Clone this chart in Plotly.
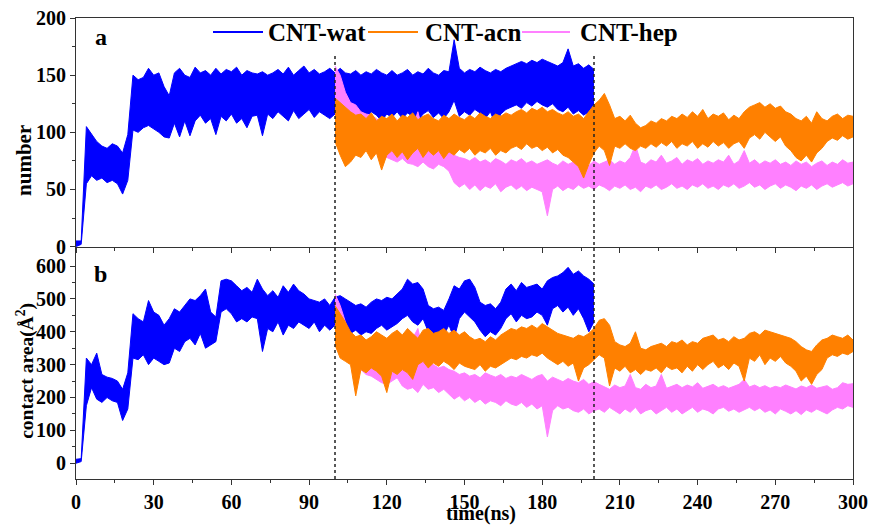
import plotly.graph_objects as go

# ---------------- data ----------------
series_names = ["CNT-wat", "CNT-acn", "CNT-hep"]
series_colors = ["#0000FF", "#FF8000", "#FF80FF"]
phase_times = [100, 200]

t_wat = list(range(0, 201, 2))      # ns
t_solv = list(range(100, 301, 2))   # ns

# panel a: number of contacts (upper / lower envelope of the noisy trace)
wat_num_hi = [5, 5, 105, 98, 92, 88, 86, 90, 88, 82, 98, 150, 146, 148, 156, 150, 152, 140, 132, 152,
              156, 150, 148, 157, 152, 154, 150, 156, 151, 155, 153, 157, 150, 154, 152, 151, 153, 150, 152, 155,
              151, 157, 150, 154, 158, 152, 155, 151, 153, 156, 152,
              156, 152, 151, 154, 150, 153, 151, 155, 152, 150, 154, 150, 152, 155, 150, 153, 151, 156, 152, 150,
              154, 153, 181, 156, 152, 155, 153, 157, 154, 152, 155, 153, 156, 158, 160, 162, 160, 163, 161, 164,
              162, 160, 158, 161, 173, 158, 160, 156, 159, 155]
wat_num_lo = [0, 2, 55, 62, 58, 60, 56, 58, 55, 46, 58, 102, 100, 104, 106, 103, 100, 96, 95, 108,
              96, 110, 97, 110, 115, 108, 112, 98, 114, 110, 116, 108, 112, 104, 114, 115, 97, 116, 112, 118,
              114, 110, 119, 112, 116, 120, 113, 118, 115, 112, 116,
              118, 116, 120, 114, 117, 112, 118, 115, 110, 116, 113, 118, 112, 117, 114, 110, 116, 119, 113, 117,
              112, 118, 128, 114, 118, 115, 120, 117, 112, 118, 106, 116, 120, 122, 124, 121, 126, 123, 127, 124,
              122, 125, 120, 118, 122, 116, 119, 115, 118, 114]
acn_num_hi = [130, 126, 122, 118, 115, 116, 112, 117, 110, 114, 112, 116, 110, 115, 113, 117, 111, 114, 116, 112,
              110, 115, 112, 116, 113, 111, 115, 112, 117, 114, 112, 116, 114, 117, 115, 118, 120, 117, 121, 119,
              122, 118, 120, 117, 115, 118, 114, 116, 112, 118, 124,
              128, 134, 124, 112, 114, 110, 115, 108, 104, 106, 110, 108, 112, 110, 114, 112, 116, 113, 118, 114,
              120, 112, 116, 114, 117, 111, 115, 112, 118, 122, 124, 126, 122, 125, 121, 123, 118, 116, 112, 110,
              114, 108, 118, 112, 110, 114, 116, 112, 115, 114]
acn_num_lo = [92, 80, 70, 74, 80, 78, 84, 76, 82, 67, 80, 84, 78, 83, 76, 82, 86, 78, 84, 80,
              84, 77, 83, 80, 85, 82, 86, 80, 84, 82, 86, 80, 84, 82, 86, 88, 85, 90, 86, 88,
              84, 87, 82, 85, 80, 78, 74, 70, 60, 72, 82,
              88, 84, 71, 88, 86, 90, 86, 84, 88, 86, 90, 87, 91, 88, 92, 86, 90, 88, 92, 86,
              90, 87, 92, 88, 91, 86, 90, 92, 86, 95, 98, 94, 100, 96, 92, 96, 88, 84, 78, 75,
              80, 74, 82, 86, 92, 95, 93, 97, 94, 96]
hep_num_hi = [158, 150, 135, 126, 124, 118, 116, 115, 112, 108, 106, 104, 103, 105, 102, 104, 118, 100, 98, 100,
              97, 96, 94, 80, 78, 77, 75, 78, 74, 76, 73, 77, 75, 72, 76, 74, 77, 73, 75, 72,
              74, 76, 73, 71, 75, 72, 74, 70, 73, 71, 75,
              72, 74, 76, 72, 75, 73, 78, 89, 74, 72, 76, 74, 80, 73, 75, 78, 72, 76, 74, 77,
              72, 75, 73, 76, 74, 80, 72, 75, 84, 73, 76, 72, 75, 73, 76, 72, 74, 71, 75, 72,
              74, 70, 73, 75, 71, 74, 72, 76, 73, 74]
hep_num_lo = [120, 116, 106, 102, 98, 94, 90, 86, 82, 80, 78, 76, 74, 77, 73, 72, 70, 74, 70, 68,
              72, 70, 66, 56, 52, 55, 50, 54, 49, 53, 51, 55, 48, 52, 54, 50, 53, 49, 52, 50,
              48, 27, 50, 53, 49, 52, 50, 54, 51, 53, 50,
              54, 52, 49, 53, 51, 54, 50, 52, 48, 53, 51, 54, 50, 52, 55, 51, 53, 50, 54, 52,
              55, 51, 53, 50, 54, 52, 55, 51, 53, 56, 52, 54, 50, 53, 55, 51, 54, 52, 49, 53,
              51, 54, 50, 53, 55, 52, 54, 56, 53, 55]

# panel b: contact area (Å^2)
wat_area_hi = [12, 14, 320, 300, 335, 270, 262, 258, 250, 225, 275, 455, 440, 430, 495, 460, 450, 420, 440, 470,
               460, 480, 500, 495, 510, 530, 460, 445, 555, 560, 555, 540, 525, 535, 520, 560, 530, 510, 525, 505,
               540, 520, 545, 525, 515, 500, 495, 490, 500, 480, 505,
               510, 500, 490, 480, 485, 475, 490, 500, 495, 505, 500, 515, 530, 560, 545, 550, 530, 480, 470, 475,
               465, 500, 540, 530, 555, 560, 535, 490, 480, 485, 470, 490, 530, 545, 525, 550, 535, 540, 545, 530,
               555, 565, 570, 580, 596, 575, 585, 570, 560, 545]
wat_area_lo = [0, 5, 175, 230, 195, 185, 200, 190, 185, 130, 165, 320, 315, 330, 300, 320, 310, 300, 305, 350,
               340, 370, 380, 360, 395, 350, 360, 370, 460, 470, 455, 430, 440, 430, 445, 440, 340, 410, 400, 430,
               390, 420, 410, 430, 420, 410, 430, 400, 420, 405, 420,
               415, 400, 395, 405, 390, 400, 395, 410, 420, 405, 415, 425, 440, 450, 430, 420, 440, 400, 385, 395,
               390, 420, 380, 440, 460, 445, 430, 405, 385, 400, 390, 410, 440, 455, 430, 450, 440, 445, 460, 450,
               420, 470, 480, 460, 475, 450, 470, 440, 400, 430]
acn_area_hi = [480, 455, 430, 400, 385, 390, 375, 385, 400, 390, 380, 395, 405, 390, 410, 395, 380, 405, 410, 395,
               400, 410, 395, 405, 390, 400, 385, 375, 380, 370, 385, 375, 390, 400, 410, 405, 415, 410, 420, 410,
               425, 415, 405, 395, 390, 385, 380, 390, 385, 395, 410,
               435, 440, 420, 370, 360, 355, 365, 400, 350, 345, 355, 360, 365, 355, 370, 365, 375, 360, 370, 365,
               380, 385, 390, 375, 380, 370, 385, 375, 380, 395, 400, 390, 405, 400, 395, 390, 385, 380, 370, 355,
               345, 340, 360, 375, 380, 390, 385, 380, 390, 375]
acn_area_lo = [360, 320, 310, 300, 205, 285, 275, 290, 280, 265, 215, 280, 270, 285, 275, 255, 300, 310, 290, 305,
               295, 310, 300, 285, 305, 295, 290, 285, 300, 280, 295, 290, 300, 310, 320, 315, 325, 320, 330, 325,
               335, 320, 310, 300, 310, 295, 305, 250, 290, 300, 315,
               330, 320, 235, 290, 280, 295, 275, 285, 270, 285, 280, 290, 275, 295, 285, 290, 275, 295, 280, 300,
               285, 300, 310, 290, 300, 285, 305, 295, 250, 320, 310, 330, 300, 320, 310, 325, 305, 295, 280, 250,
               265, 240, 270, 285, 320, 330, 325, 335, 330, 340]
hep_area_hi = [515, 480, 430, 380, 360, 345, 330, 320, 305, 300, 320, 360, 400, 380, 350, 380, 410, 340, 320, 300,
               290, 295, 285, 280, 270, 275, 265, 270, 260, 275, 268, 262, 270, 258, 265, 260, 270, 262, 255, 265,
               270, 250, 262, 255, 248, 258, 250, 245, 255, 240, 248,
               240, 232, 225, 238, 230, 235, 270, 230, 225, 240, 230, 235, 270, 228, 235, 240, 230, 238, 232, 245,
               228, 235, 240, 230, 236, 228, 234, 240, 255, 232, 238, 230, 236, 228, 234, 230, 238, 232, 226, 235,
               230, 238, 228, 232, 236, 225, 230, 245, 240, 242]
hep_area_lo = [420, 390, 350, 320, 300, 285, 270, 265, 255, 245, 240, 250, 260, 235, 225, 230, 215, 240, 225, 230,
               215, 225, 210, 195, 205, 190, 200, 185, 195, 180, 190, 185, 175, 190, 180, 175, 185, 170, 180, 165,
               175, 80, 160, 175, 165, 170, 160, 155, 165, 150, 160,
               165, 155, 170, 160, 150, 165, 155, 170, 150, 160, 165, 150, 160, 170, 155, 165, 150, 160, 170, 155,
               165, 160, 150, 165, 170, 158, 165, 155, 162, 170, 160, 168, 155, 162, 150, 165, 158, 150, 160, 148,
               162, 155, 165, 158, 150, 162, 170, 165, 175, 170]

x_ticks = [0, 30, 60, 90, 120, 150, 180, 210, 240, 270, 300]
num_ticks = [0, 50, 100, 150, 200]
area_ticks = [0, 100, 200, 300, 400, 500, 600]

# ---------------- figure ----------------
SERIF = "Liberation Serif"
AX = "#333333"
fig = go.Figure()
color_of = dict(zip(series_names, series_colors))

panel_data = {
    "a": {"CNT-wat": (t_wat, wat_num_lo, wat_num_hi),
          "CNT-hep": (t_solv, hep_num_lo, hep_num_hi),
          "CNT-acn": (t_solv, acn_num_lo, acn_num_hi)},
    "b": {"CNT-wat": (t_wat, wat_area_lo, wat_area_hi),
          "CNT-hep": (t_solv, hep_area_lo, hep_area_hi),
          "CNT-acn": (t_solv, acn_area_lo, acn_area_hi)},
}
axes_of = {"a": ("x2", "y2"), "b": ("x", "y")}

for panel, d in panel_data.items():
    xa, ya = axes_of[panel]
    for name in ["CNT-wat", "CNT-hep", "CNT-acn"]:
        t, lo, hi = d[name]
        c = color_of[name]
        fig.add_trace(go.Scatter(x=t, y=lo, mode="lines", line=dict(color=c, width=1), name=name,
                                 xaxis=xa, yaxis=ya, showlegend=False, hoverinfo="skip"))
        fig.add_trace(go.Scatter(x=t, y=hi, mode="lines", line=dict(color=c, width=1), name=name,
                                 fill="tonexty", fillcolor=c,
                                 xaxis=xa, yaxis=ya, showlegend=False, hoverinfo="skip"))

tickfont = dict(family=SERIF, size=20, color="black", weight="bold")
common_x = dict(range=[0, 300], tickvals=x_ticks, ticks="outside", ticklen=5, tickwidth=1,
                tickcolor=AX, showline=True, linecolor=AX, linewidth=1, showgrid=False, zeroline=False,
                automargin=False,
                minor=dict(tickvals=[15, 45, 75, 105, 135, 165, 195, 225, 255, 285],
                           ticks="outside", ticklen=3, tickcolor=AX))
fig.update_layout(
    width=870, height=525,
    margin=dict(l=76, r=17, t=18, b=46, autoexpand=False),
    plot_bgcolor="white", paper_bgcolor="white",
    showlegend=False,
    xaxis=dict(domain=[0, 1], anchor="y", tickfont=tickfont, **common_x),
    xaxis2=dict(domain=[0, 1], anchor="y2", matches="x", showticklabels=False, mirror=True, **common_x),
    yaxis=dict(domain=[0, 0.504], range=[-48, 659], tickvals=area_ticks, ticks="outside", ticklen=5,
               tickcolor=AX, showline=True, linecolor=AX, mirror=True, showgrid=False, zeroline=False,
               tickfont=tickfont, automargin=False,
               minor=dict(tickvals=[50, 150, 250, 350, 450, 550], ticks="outside", ticklen=3, tickcolor=AX)),
    yaxis2=dict(domain=[0.504, 1], range=[0, 200], tickvals=num_ticks, ticks="outside", ticklen=5,
                tickcolor=AX, showline=True, linecolor=AX, mirror=True, showgrid=False, zeroline=False,
                tickfont=tickfont, automargin=False,
                minor=dict(tickvals=[25, 75, 125, 175], ticks="outside", ticklen=3, tickcolor=AX)),
)

for xv in phase_times:
    fig.add_shape(type="line", xref="x", yref="paper", x0=xv, x1=xv, y0=0, y1=0.924,
                  line=dict(color="#222222", width=1.5, dash="dot"))

# legend drawn as key lines + labels across the top of panel a
PLOT_L, PLOT_W = 76, 777
key_px = [(213, 263, 266), (368, 418, 423), (522, 570, 578)]   # line start, line end, text start
leg_y = 0.9696
lab = dict(family=SERIF, color="black", weight="bold")
for name, (x0, x1, xt) in zip(series_names, key_px):
    fig.add_shape(type="line", xref="paper", yref="paper",
                  x0=(x0 - PLOT_L) / PLOT_W, x1=(x1 - PLOT_L) / PLOT_W, y0=leg_y, y1=leg_y,
                  line=dict(color=color_of[name], width=2))
    fig.add_annotation(text=name, xref="paper", yref="paper", x=(xt - PLOT_L) / PLOT_W, y=leg_y,
                       xanchor="left", yanchor="middle", showarrow=False, font=dict(size=25, **lab))

ann = dict(xref="paper", yref="paper", showarrow=False, xanchor="center", yanchor="middle")
fig.add_annotation(text="a", x=0.032, y=0.959, font=dict(size=24, **lab), **ann)
fig.add_annotation(text="b", x=0.032, y=0.445, font=dict(size=24, **lab), **ann)
fig.add_annotation(text="number", x=-0.067, y=0.692, textangle=-90, font=dict(size=21, **lab), **ann)
fig.add_annotation(text="contact area(Å<sup>2</sup>)", x=-0.066, y=0.234, textangle=-90,
                   font=dict(size=19.5, **lab), **ann)
fig.add_annotation(text="time(ns)", x=0.521, y=-0.0755, font=dict(size=20, **lab), **ann)

fig.write_html("out.html", config={"displayModeBar": False},
               post_script="document.body.style.margin='0px';")
